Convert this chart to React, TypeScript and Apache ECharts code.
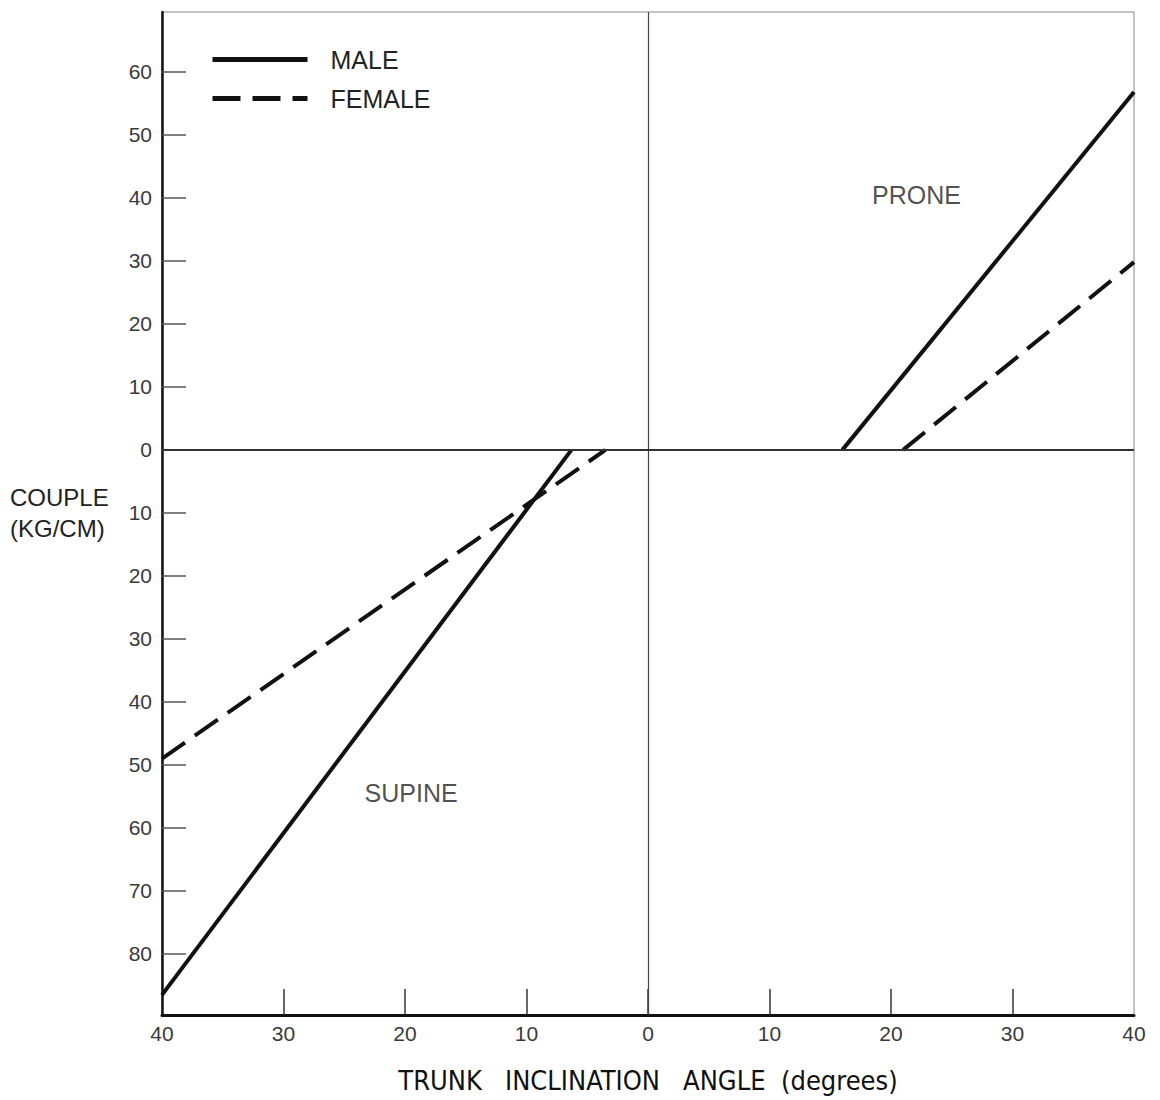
import React, { useEffect, useRef } from "react";
import * as echarts from "echarts";

const xTicks = [-40, -30, -20, -10, 0, 10, 20, 30, 40];
const yTicks = [-80, -70, -60, -50, -40, -30, -20, -10, 0, 10, 20, 30, 40, 50, 60];

const maleSupine: [number, number][] = [[-40, -86.5], [-6.3, 0]];
const maleProne: [number, number][] = [[16, 0], [40, 56.8]];
const femaleSupine: [number, number][] = [[-40, -49], [-3.5, 0]];
const femaleProne: [number, number][] = [[21, 0], [40, 29.8]];

const regionLabels = [
  { name: "PRONE", value: [22.1, 40.5] },
  { name: "SUPINE", value: [-19.5, -54.4] },
];

const FONT = "Liberation Sans";
const NARROW = "'Liberation Sans Narrow', 'DejaVu Sans Condensed', 'Liberation Sans'";
const TEXT = "#222";
const TICKTXT = "#3a3a3a";
const INK = "#111";

export default function App() {
  const ref = useRef<HTMLDivElement>(null);
  useEffect(() => {
    if (!ref.current) return;
    const chart = echarts.init(ref.current, undefined, { renderer: "svg" });
    const lineW = 4;
    const maleStyle = { color: INK, width: lineW, type: "solid" as const };
    const femaleStyle = { color: INK, width: lineW, type: [28, 12] as any };
    chart.setOption({
      animation: false,
      backgroundColor: "#fff",
      textStyle: { fontFamily: FONT },
      grid: {
        left: 162, right: 26, top: 12, bottom: 85,
        show: true, borderColor: "#888", borderWidth: 1, backgroundColor: "transparent",
      },
      legend: {
        left: 205, top: 42, orient: "vertical", itemWidth: 95, itemHeight: 14, itemGap: 14,
        data: ["MALE", "FEMALE"],
        itemStyle: { opacity: 0 },
        lineStyle: { width: 5 },
        textStyle: { fontFamily: FONT, fontSize: 25, color: TEXT, padding: [0, 0, 0, 18] },
        selectedMode: false,
      },
      xAxis: {
        type: "value", min: -40, max: 40, interval: 10,
        axisLine: { show: true, onZero: false, lineStyle: { color: INK, width: 3 } },
        axisTick: { show: true, inside: true, length: 26, lineStyle: { color: "#333", width: 1.5 }, customValues: xTicks.filter(v => v !== -40 && v !== 40) },
        axisLabel: {
          customValues: xTicks, color: TICKTXT, fontSize: 21, fontFamily: FONT, margin: 8,
          formatter: (v: number) => String(Math.abs(v)),
        },
        splitLine: { show: false },
        name: "TRUNK   INCLINATION   ANGLE  (degrees)",
        nameLocation: "middle", nameGap: 52,
        nameTextStyle: { fontSize: 27, color: INK, fontFamily: NARROW },
      },
      yAxis: {
        type: "value", min: -89.7, max: 69.5,
        axisLine: { show: true, onZero: false, lineStyle: { color: INK, width: 2.5 } },
        axisTick: { show: true, inside: true, length: 24, lineStyle: { color: "#555", width: 1.5 }, customValues: yTicks },
        axisLabel: {
          customValues: yTicks, color: TICKTXT, fontSize: 21, fontFamily: FONT, margin: 10,
          formatter: (v: number) => String(Math.abs(v)),
        },
        splitLine: { show: false },
      },
      graphic: [
        {
          type: "text", left: 10, top: 482,
          style: { text: "COUPLE\n(KG/CM)", fontSize: 24, lineHeight: 31, fill: TEXT, fontFamily: FONT },
        },
      ],
      series: [
        {
          name: "MALE", type: "line", data: maleSupine, symbol: "none", lineStyle: maleStyle, itemStyle: { color: INK },
          markLine: {
            silent: true, symbol: "none", label: { show: false },
            data: [
              { xAxis: 0, lineStyle: { color: "#444", width: 1.2, type: "solid" } },
              { yAxis: 0, lineStyle: { color: "#333", width: 2, type: "solid" } },
            ],
          },
        },
        { name: "MALE", type: "line", data: maleProne, symbol: "none", lineStyle: maleStyle, itemStyle: { color: INK } },
        { name: "FEMALE", type: "line", data: femaleSupine, symbol: "none", lineStyle: femaleStyle, itemStyle: { color: INK } },
        { name: "FEMALE", type: "line", data: femaleProne, symbol: "none", lineStyle: femaleStyle, itemStyle: { color: INK } },
        {
          name: "labels", type: "scatter", data: regionLabels, symbolSize: 0, silent: true,
          label: {
            show: true, position: "inside", formatter: (p: any) => p.name,
            fontSize: 25, color: TEXT, fontFamily: FONT,
          },
        },
      ],
    });
    return () => chart.dispose();
  }, []);
  return <div ref={ref} style={{ width: 1160, height: 1100, position: "absolute", left: 0, top: 0 }} />;
}
